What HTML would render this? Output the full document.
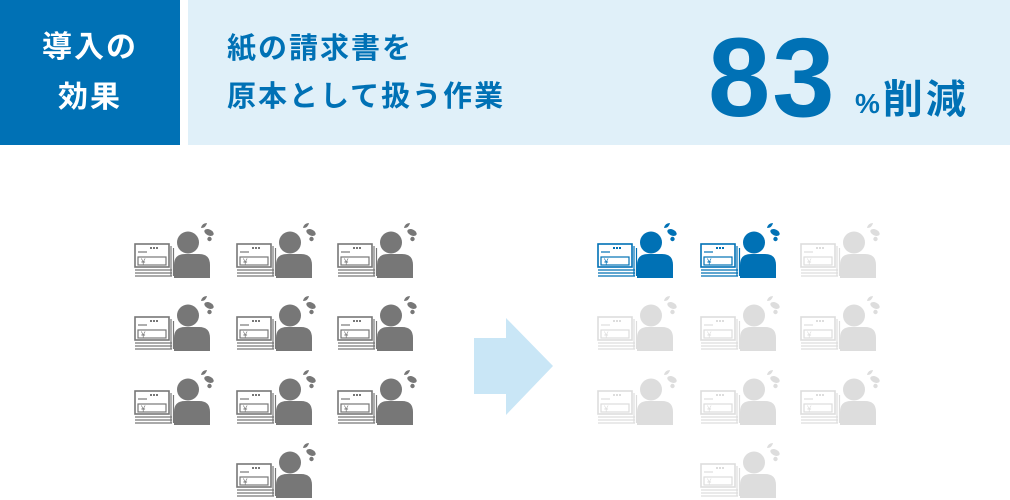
<!DOCTYPE html>
<html><head><meta charset="utf-8"><style>
body{margin:0;width:1010px;height:500px;background:#fff;position:relative;overflow:hidden;font-family:"Liberation Sans","Noto Sans CJK JP",sans-serif}
.a{position:absolute;left:0;top:0;width:180px;height:145px;background:#0071b5;color:#fff;font-size:30px;font-weight:bold;line-height:50px;text-align:center;padding-top:23px;box-sizing:border-box;letter-spacing:2px}
.b{position:absolute;left:188px;top:0;width:822px;height:145px;background:#e0f0f9}
.t{position:absolute;left:227px;top:25px;color:#0071b5;font-size:29px;font-weight:bold;line-height:48px;letter-spacing:2px}
.n{position:absolute;left:708px;top:18px;color:#0071b5;font-size:112px;font-weight:bold;line-height:120px;letter-spacing:2px}
.p{position:absolute;left:855px;top:78px;color:#0071b5;font-size:40px;font-weight:bold;line-height:44px;letter-spacing:3px}
</style></head><body>
<div class="a">導入の<br>効果</div>
<div class="b"></div>
<div class="t">紙の請求書を<br>原本として扱う作業</div>
<div class="n">83</div>
<div class="p"><span style="font-size:28px">%</span>削減</div>
<svg width="1010" height="500" style="position:absolute;left:0;top:0">
<defs>
<g id="ic">
<g fill="none" stroke="currentColor" stroke-width="1.2">
<line x1="5" y1="52" x2="42" y2="52"/><line x1="5" y1="55" x2="42" y2="55"/><line x1="5" y1="58" x2="42" y2="58"/>
<line x1="41" y1="28" x2="41" y2="58"/><line x1="43.5" y1="30" x2="43.5" y2="58"/>
<rect x="5" y="26" width="34" height="23" fill="#fff" stroke-width="1.6"/>
<line x1="8" y1="34" x2="17" y2="34"/><rect x="8" y="39" width="28" height="8"/>
</g>
<g fill="currentColor">
<rect x="20" y="29" width="2" height="2"/><rect x="23" y="29" width="2" height="2"/><rect x="26" y="29" width="2" height="2"/>
<text x="11" y="46.5" font-size="8" font-family="Liberation Sans">¥</text>
<circle cx="58" cy="24.5" r="11"/>
<path d="M44 60 V47 Q44 36 55 36 H69 Q80 36 80 47 V60 Z"/>
<path d="M71 10 Q72 5 77 5 Q76 10 71 10 z"/>
<ellipse cx="79" cy="14.5" rx="5" ry="3" transform="rotate(25 79 14.5)"/>
<circle cx="79.5" cy="21" r="2.2"/>
</g>
</g>
</defs>
<g color="#777">
<use href="#ic" x="130" y="218"/><use href="#ic" x="232" y="218"/><use href="#ic" x="333" y="218"/>
<use href="#ic" x="130" y="291"/><use href="#ic" x="232" y="291"/><use href="#ic" x="333" y="291"/>
<use href="#ic" x="130" y="365"/><use href="#ic" x="232" y="365"/><use href="#ic" x="333" y="365"/>
<use href="#ic" x="232" y="438"/>
</g>
<g color="#0071b5"><use href="#ic" x="593" y="218"/><use href="#ic" x="696" y="218"/></g>
<g color="#ddd">
<use href="#ic" x="796" y="218"/>
<use href="#ic" x="593" y="291"/><use href="#ic" x="696" y="291"/><use href="#ic" x="796" y="291"/>
<use href="#ic" x="593" y="365"/><use href="#ic" x="696" y="365"/><use href="#ic" x="796" y="365"/>
<use href="#ic" x="696" y="438"/>
</g>
<polygon points="474,338 506,338 506,318 553,366 506,415 506,394 474,394" fill="#c9e6f6"/>
</svg>
</body></html>
